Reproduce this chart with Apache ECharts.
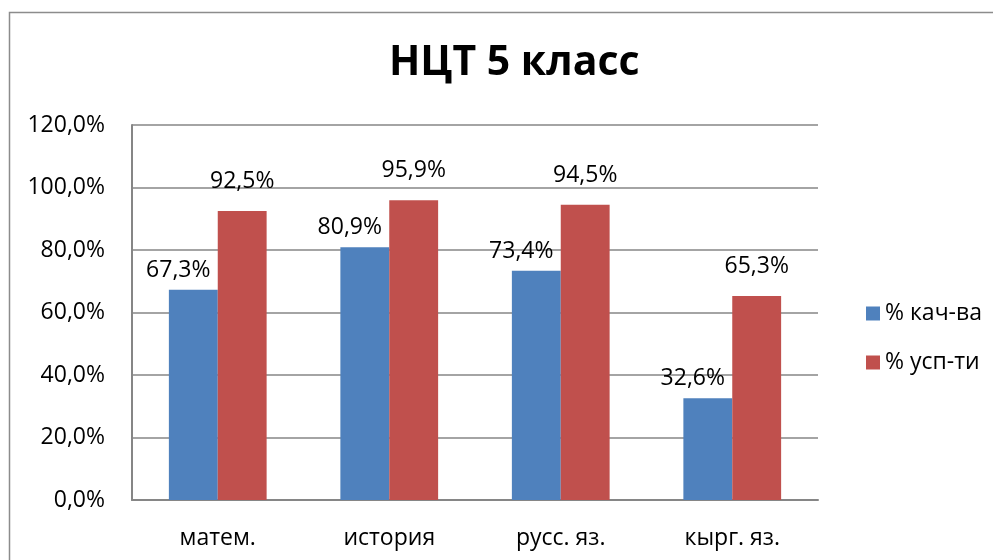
<!DOCTYPE html>
<html>
<head>
<meta charset="utf-8">
<script src="https://cdn.jsdelivr.net/npm/echarts@6/dist/echarts.min.js"></script>
<style>
  html, body { margin: 0; padding: 0; background: #fff; }
  #chart { width: 993px; height: 560px; }
</style>
</head>
<body>
<div id="chart"></div>
<script>
// данные диаграммы
const categories = ['матем.', 'история', 'русс. яз.', 'кырг. яз.']
const quality = [67.3, 80.9, 73.4, 32.6]
const success = [92.5, 95.9, 94.5, 65.3]
const seriesNames = ['% кач-ва', '% усп-ти']

const fmt = v => v.toFixed(1).replace('.', ',') + '%'
const font = 'Open Sans'

const myChart = echarts.init(document.getElementById('chart'))
const option = {
  animation: false,
  backgroundColor: '#fff',
  graphic: [
    {
      type: 'rect',
      shape: { x: 9.5, y: 12.5, width: 1100, height: 700 },
      style: { fill: 'none', stroke: '#8c8c8c', lineWidth: 1.5 }
    }
  ],
  title: {
    text: 'НЦТ 5 класс',
    left: 384,
    top: 38,
    textStyle: { fontFamily: font, fontSize: 41, fontWeight: 'bold', color: '#000' }
  },
  legend: {
    orient: 'vertical',
    left: 861,
    top: 297,
    itemWidth: 14,
    itemHeight: 14,
    itemGap: 26,
    icon: 'rect',
    data: seriesNames,
    textStyle: { fontFamily: font, fontSize: 23, color: '#000' }
  },
  grid: {
    left: 132,
    right: 175,
    top: 125,
    bottom: 60
  },
  xAxis: {
    type: 'category',
    data: categories,
    axisLine: { lineStyle: { color: '#868686', width: 2 } },
    axisTick: { show: false },
    axisLabel: { margin: 27, fontFamily: font, fontSize: 23, color: '#000' }
  },
  yAxis: {
    type: 'value',
    min: 0,
    max: 120,
    interval: 20,
    axisLine: { show: true, lineStyle: { color: '#868686', width: 2 } },
    axisTick: { show: false },
    splitLine: { lineStyle: { color: '#868686', width: 1.5 } },
    axisLabel: {
      margin: 27,
      fontFamily: font,
      fontSize: 23,
      color: '#000',
      formatter: v => fmt(v)
    }
  },
  series: [
    {
      name: seriesNames[0],
      type: 'bar',
      data: quality,
      barGap: '0%',
      barCategoryGap: '43%',
      itemStyle: { color: '#4F81BD' },
      label: {
        show: true,
        position: 'top',
        distance: 8,
        offset: [-15, 0],
        fontFamily: font,
        fontSize: 23,
        color: '#000',
        formatter: p => fmt(p.value)
      }
    },
    {
      name: seriesNames[1],
      type: 'bar',
      data: success,
      itemStyle: { color: '#C0504D' },
      label: {
        show: true,
        position: 'top',
        distance: 18,
        fontFamily: font,
        fontSize: 23,
        color: '#000',
        formatter: p => fmt(p.value)
      }
    }
  ]
}
myChart.setOption(option)
</script>
</body>
</html>
